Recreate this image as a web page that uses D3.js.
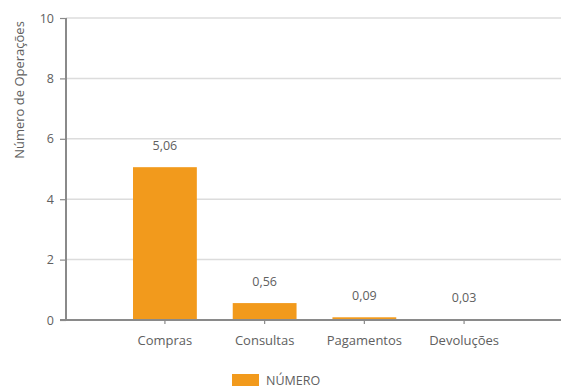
<!DOCTYPE html>
<html><head><meta charset="utf-8">
<script src="https://cdn.jsdelivr.net/npm/d3@7"></script>
<style>body{margin:0;background:#fff}svg{display:block}</style>
</head><body>
<svg id="c" width="561" height="392"></svg>
<script>
const categories = ["Compras", "Consultas", "Pagamentos", "Devoluções"];
const values = [5.06, 0.56, 0.09, 0.03];
const valueLabels = ["5,06", "0,56", "0,09", "0,03"];
const yTicks = [0, 2, 4, 6, 8, 10];
const seriesName = "NÚMERO";
const yTitle = "Número de Operações";

const svg = d3.select("#c");
const font = "'Open Sans', 'Noto Sans', sans-serif";
const txt = "#606060";
const x0 = 66, x1 = 561, yTop = 18, yBot = 320;
const color = "#F29A1C";

const y = d3.scaleLinear().domain([0, 10]).range([yBot, yTop]);
const x = d3.scaleBand().domain(categories).range([x0, 563]).paddingInner(0.36).paddingOuter(0.672);

// gridlines
svg.append("g").selectAll("line").data(yTicks.filter(d => d > 0)).join("line")
  .attr("x1", x0).attr("x2", x1).attr("y1", d => y(d)).attr("y2", d => y(d))
  .attr("stroke", "#dcdcdc").attr("stroke-width", 1.5);

// bars
svg.append("g").selectAll("rect").data(values).join("rect")
  .attr("x", (d, i) => x(categories[i]))
  .attr("width", x.bandwidth())
  .attr("y", d => y(d))
  .attr("height", d => yBot - y(d))
  .attr("fill", color);

// value labels
svg.append("g").selectAll("text").data(values).join("text")
  .attr("x", (d, i) => x(categories[i]) + x.bandwidth() / 2)
  .attr("y", d => y(d) - 17)
  .attr("text-anchor", "middle")
  .attr("font-family", font).attr("font-size", 12.5).attr("fill", txt)
  .text((d, i) => valueLabels[i]);

// y axis
const yAxis = d3.axisLeft(y).tickValues(yTicks).tickSize(6).tickPadding(6).tickFormat(d3.format("d"));
const gy = svg.append("g").attr("transform", `translate(${x0},0)`).call(yAxis);
gy.select(".domain").attr("stroke", "#8a8a8a").attr("stroke-width", 2).attr("d", `M0,${yTop}V${yBot}`);
gy.selectAll(".tick line").attr("stroke", "#8a8a8a").attr("stroke-width", 1.2);
gy.selectAll(".tick text").attr("font-family", font).attr("font-size", 12.5).attr("fill", txt);

// x axis
const xAxis = d3.axisBottom(x).tickSize(4).tickPadding(12);
const gx = svg.append("g").attr("transform", `translate(0,${yBot})`).call(xAxis);
gx.select(".domain").attr("stroke", "#8a8a8a").attr("stroke-width", 2).attr("d", `M${x0 - 6},0H${x1}`);
gx.selectAll(".tick line").attr("stroke", "#8a8a8a").attr("stroke-width", 1.2);
gx.selectAll(".tick text").attr("font-family", font).attr("font-size", 13).attr("fill", txt);

// y title
svg.append("text").attr("transform", "translate(21,90) rotate(-90)")
  .attr("text-anchor", "middle").attr("dominant-baseline", "middle")
  .attr("font-family", font).attr("font-size", 13).attr("fill", txt)
  .text(yTitle);

// legend
const lg = svg.append("g").attr("transform", "translate(232,374)");
lg.append("rect").attr("width", 27).attr("height", 12).attr("fill", color);
lg.append("text").attr("x", 34).attr("y", 11).attr("font-family", font).attr("font-size", 12.5).attr("fill", txt).text(seriesName);
</script>
</body></html>
